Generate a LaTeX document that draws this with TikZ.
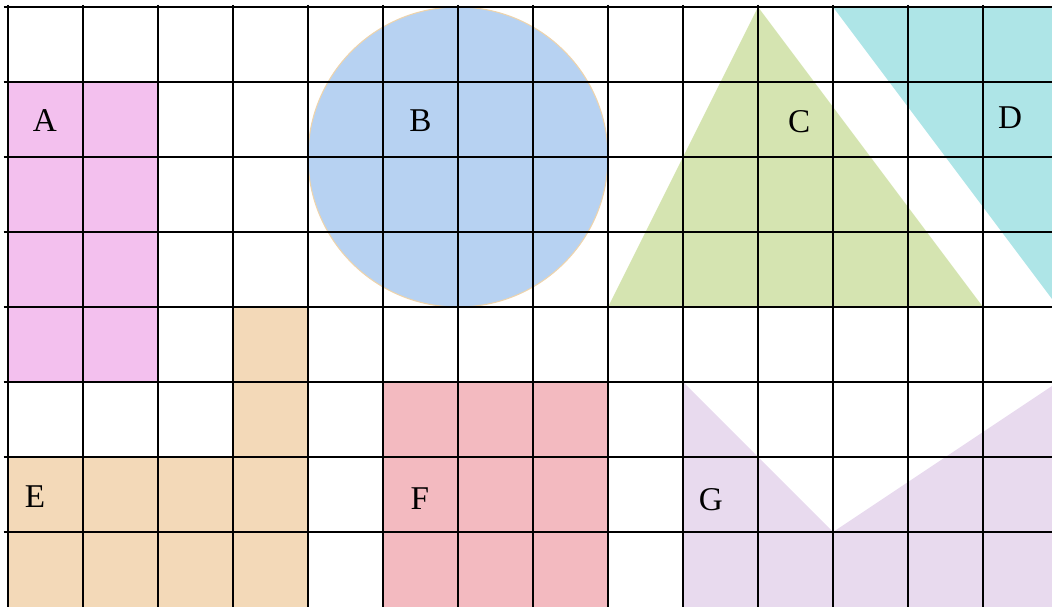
\documentclass[tikz,border=0pt]{standalone}
\usepackage{fontspec}
\setmainfont{Liberation Serif}
\definecolor{cA}{RGB}{243,192,238}
\definecolor{cB}{RGB}{183,210,242}
\definecolor{cBb}{RGB}{238,212,172}
\definecolor{cC}{RGB}{213,228,177}
\definecolor{cD}{RGB}{174,229,231}
\definecolor{cE}{RGB}{243,217,184}
\definecolor{cF}{RGB}{243,186,192}
\definecolor{cG}{RGB}{232,218,238}
\begin{document}
\begin{tikzpicture}[x=1cm,y=-1cm,
  gridline/.style={line width=0.8pt,black},
  lbl/.style={font=\fontsize{12.6}{14}\selectfont,inner sep=0pt,text=black}]
\useasboundingbox (-0.1067,-0.0933) rectangle (13.92,7.987);
\clip (-0.1067,-0.0933) rectangle (13.92,7.987);
% shapes
\fill[cA] (0,1) rectangle (2,5);
\fill[cB] (6,2) circle (2);
\draw[cBb, line width=0.4pt] (6,2) circle (2);
\fill[cC] (8,4) -- (13,4) -- (10,0) -- cycle;
\fill[cD] (11,0) -- (14.5,0) -- (14.5,4.6667) -- cycle;
\fill[cE] (3,4) -- (4,4) -- (4,8.2) -- (0,8.2) -- (0,6) -- (3,6) -- cycle;
\fill[cF] (5,5) rectangle (8,8.2);
\fill[cG] (9,5) -- (11,7) -- (14,5) -- (14.2,5) -- (14.2,8.2) -- (9,8.2) -- cycle;
% grid
\foreach \i in {0,...,13} \draw[gridline] (\i,-0.03) -- (\i,8.2);
\foreach \j in {0,...,7} \draw[gridline] (-0.06,\j) -- (14.2,\j);
% labels
\node[lbl] (la) at (0.49,1.52) {A};
\node[lbl] (lb) at (5.50,1.52) {B};
\node[lbl] (lc) at (10.55,1.53) {C};
\node[lbl] (ld) at (13.36,1.47) {D};
\node[lbl] (le) at (0.36,6.53) {E};
\node[lbl] (lf) at (5.49,6.55) {F};
\node[lbl] (lg) at (9.37,6.57) {G};
\end{tikzpicture}
\end{document}
